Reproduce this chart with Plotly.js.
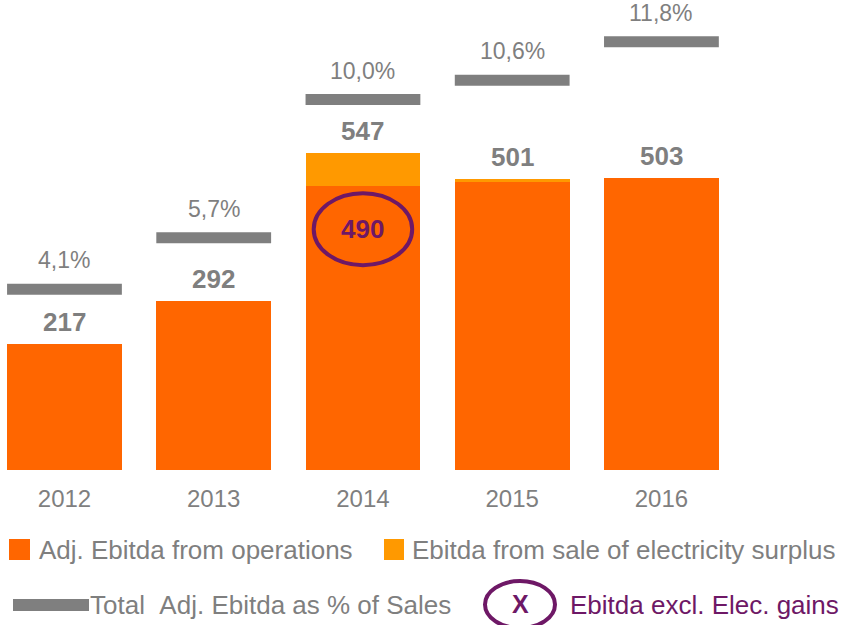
<!DOCTYPE html>
<html>
<head>
<meta charset="utf-8">
<script src="https://cdn.plot.ly/plotly-3.0.1.min.js"></script>
<style>html,body{margin:0;padding:0;background:#fff;}#chart{width:845px;height:625px;}</style>
</head>
<body>
<div id="chart"></div>
<script>
// ---- data ----
const years = ['2012', '2013', '2014', '2015', '2016'];
const ebitdaOps = [217, 292, 490, 496, 503];
const elecSurplus = [0, 0, 57, 5, 0];
const pctSales = [4.1, 5.7, 10.0, 10.6, 11.8];
const pctLabels = ['4,1%', '5,7%', '10,0%', '10,6%', '11,8%'];
const exclElecYear = '2014';
const exclElecValue = 490;

// ---- styles ----
const ORANGE = '#FF6600', YELLOW = '#FF9900', GREY = '#7F7F7F', PURPLE = '#6E1866';
const FONT = 'Liberation Sans, Arial, sans-serif';
const W = 845, H = 625, MB = 155, PH = H - MB;
const px = p => p / W;               // pixel x -> paper
const py = p => (PH - p) / PH;       // pixel y -> paper

const totals = ebitdaOps.map((v, i) => v + elecSurplus[i]);
const exclIdx = years.indexOf(exclElecYear);

const traces = [
  { type: 'bar', x: years, y: ebitdaOps, marker: { color: ORANGE }, width: 0.77, name: 'Adj. Ebitda from operations', hoverinfo: 'none' },
  { type: 'bar', x: years, y: elecSurplus, marker: { color: YELLOW }, width: 0.77, name: 'Ebitda from sale of electricity surplus', hoverinfo: 'none' },
  { type: 'scatter', mode: 'markers', x: years, y: pctSales, yaxis: 'y2', cliponaxis: false,
    marker: { symbol: 'line-ew', size: 82, color: GREY, line: { color: GREY, width: 11 } },
    name: 'Total Adj. Ebitda as % of Sales', hoverinfo: 'none' }
];

const annotations = [];
years.forEach((yr, i) => {
  annotations.push({ x: i, y: totals[i], xref: 'x', yref: 'y', text: '<b>' + totals[i] + '</b>', showarrow: false,
    yanchor: 'bottom', yshift: 5, font: { family: FONT, size: 26, color: GREY } });
  annotations.push({ x: i, y: pctSales[i], xref: 'x', yref: 'y2', text: pctLabels[i], showarrow: false,
    yanchor: 'bottom', yshift: 14, font: { family: FONT, size: 23, color: GREY } });
});
// 490 callout
annotations.push({ x: exclIdx, y: exclElecValue * 0.847, xref: 'x', yref: 'y', text: '<b>' + exclElecValue + '</b>', showarrow: false,
  font: { family: FONT, size: 26, color: PURPLE } });

// legend texts
const legFont = { family: FONT, size: 26, color: GREY };
annotations.push({ x: px(37), y: py(550), xref: 'paper', yref: 'paper', xanchor: 'left', yanchor: 'middle', showarrow: false, text: 'Adj. Ebitda from operations', font: legFont });
annotations.push({ x: px(410), y: py(550), xref: 'paper', yref: 'paper', xanchor: 'left', yanchor: 'middle', showarrow: false, text: 'Ebitda from sale of electricity surplus', font: legFont });
annotations.push({ x: px(88), y: py(605), xref: 'paper', yref: 'paper', xanchor: 'left', yanchor: 'middle', showarrow: false, text: 'Total&nbsp;&nbsp;Adj. Ebitda as % of Sales', font: legFont });
annotations.push({ x: px(520), y: py(604), xref: 'paper', yref: 'paper', xanchor: 'center', yanchor: 'middle', showarrow: false, text: '<b>X</b>', font: { family: FONT, size: 25, color: PURPLE } });
annotations.push({ x: px(568), y: py(605), xref: 'paper', yref: 'paper', xanchor: 'left', yanchor: 'middle', showarrow: false, text: 'Ebitda excl. Elec. gains', font: { family: FONT, size: 26, color: PURPLE } });

const shapes = [
  // callout ellipse around 490
  { type: 'circle', xref: 'x', yref: 'y', x0: exclIdx - 0.33, x1: exclIdx + 0.33, y0: 353, y1: 477, line: { color: PURPLE, width: 4 } },
  // legend swatches
  { type: 'rect', xref: 'paper', yref: 'paper', x0: px(9), x1: px(30), y0: py(560), y1: py(539), fillcolor: ORANGE, line: { width: 0 } },
  { type: 'rect', xref: 'paper', yref: 'paper', x0: px(384), x1: px(404), y0: py(560), y1: py(539), fillcolor: YELLOW, line: { width: 0 } },
  { type: 'rect', xref: 'paper', yref: 'paper', x0: px(13), x1: px(89), y0: py(611), y1: py(599), fillcolor: GREY, line: { width: 0 } },
  { type: 'circle', xref: 'paper', yref: 'paper', x0: px(485), x1: px(555), y0: py(628), y1: py(581), line: { color: PURPLE, width: 4 } }
];

const layout = {
  width: W, height: H,
  margin: { l: 0, r: 0, t: 0, b: MB, pad: 0 },
  paper_bgcolor: '#fff', plot_bgcolor: '#fff',
  barmode: 'stack', bargap: 0.23,
  showlegend: false,
  xaxis: { type: 'category', range: [-0.432, 5.23], showgrid: false, zeroline: false, showline: false,
    ticks: '', ticklabelstandoff: 12, tickfont: { family: FONT, size: 24, color: GREY } },
  yaxis: { range: [0, 810], visible: false, showgrid: false, zeroline: false },
  yaxis2: { overlaying: 'y', range: [-1.53, 13.10], visible: false, showgrid: false, zeroline: false },
  annotations: annotations,
  shapes: shapes
};

Plotly.newPlot('chart', traces, layout, { staticPlot: true, displayModeBar: false });
</script>
</body>
</html>
